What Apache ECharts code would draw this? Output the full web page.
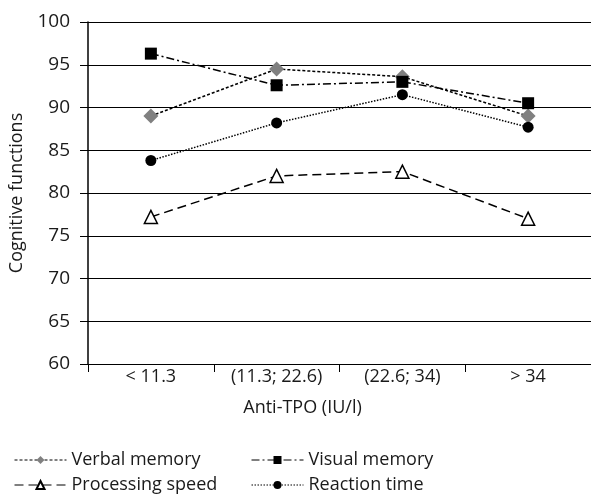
<!DOCTYPE html>
<html><head><meta charset="utf-8">
<script src="https://cdn.jsdelivr.net/npm/echarts@6/dist/echarts.min.js"></script>
<style>html,body{margin:0;padding:0;background:#fff}#c{width:591px;height:497px}</style>
</head><body><div id="c"></div>
<script>
const categories = ['< 11.3', '(11.3; 22.6)', '(22.6; 34)', '> 34'];
const verbalMemory = [89.0, 94.5, 93.6, 89.0];
const visualMemory = [96.3, 92.6, 93.0, 90.5];
const processingSpeed = [77.2, 82.0, 82.5, 77.0];
const reactionTime = [83.8, 88.2, 91.5, 87.7];
const yTicks = {min: 60, max: 100, interval: 5};

const font = 'Open Sans';
const txt = '#1a1a1a';
const chart = echarts.init(document.getElementById('c'));
function legendAt(name, left, top) {
  return {data: [name], left: left, top: top, itemWidth: 52, itemHeight: 10,
    lineStyle: {width: 1},
    textStyle: {fontFamily: font, fontSize: 18, color: txt}, selectedMode: false};
}
chart.setOption({
  animation: false,
  textStyle: {fontFamily: font},
  grid: {left: 87, right: 0, top: 22, bottom: 133},
  legend: [
    legendAt('Verbal memory', 9, 446),
    legendAt('Visual memory', 246, 446),
    legendAt('Processing speed', 9, 471),
    legendAt('Reaction time', 246, 471)
  ],
  xAxis: {
    type: 'category', data: categories, boundaryGap: true,
    name: 'Anti-TPO (IU/l)', nameLocation: 'middle', nameGap: 35,
    nameTextStyle: {fontFamily: font, fontSize: 18, color: txt, padding: [0, 74, 0, 0]},
    axisLine: {lineStyle: {color: '#000', width: 1}},
    axisTick: {show: true, length: 8, lineStyle: {color: '#000'}},
    axisLabel: {fontFamily: font, fontSize: 18, color: txt, margin: 4}
  },
  yAxis: {
    type: 'value', min: yTicks.min, max: yTicks.max, interval: yTicks.interval,
    name: 'Cognitive functions', nameLocation: 'middle', nameGap: 62, nameRotate: 90,
    nameTextStyle: {fontFamily: font, fontSize: 18, color: txt},
    axisLine: {show: true, lineStyle: {color: '#000', width: 1.5}},
    axisTick: {show: true, length: 8, lineStyle: {color: '#000'}},
    axisLabel: {fontFamily: font, fontSize: 19, color: txt, margin: 18},
    splitLine: {lineStyle: {color: '#000', width: 1}}
  },
  series: [
    {name: 'Verbal memory', type: 'line', data: verbalMemory, symbol: 'diamond', symbolSize: 15,
      itemStyle: {color: '#808080'}, lineStyle: {color: '#000', width: 1.5, type: [3, 2]}},
    {name: 'Visual memory', type: 'line', data: visualMemory, symbol: 'rect', symbolSize: 12,
      itemStyle: {color: '#000'}, lineStyle: {color: '#000', width: 1.5, type: [8, 3, 2, 3]}},
    {name: 'Processing speed', type: 'line', data: processingSpeed, symbol: 'triangle', symbolSize: 13,
      itemStyle: {color: '#fff', borderColor: '#000', borderWidth: 1.5},
      lineStyle: {color: '#000', width: 1.5, type: [9, 5]}},
    {name: 'Reaction time', type: 'line', data: reactionTime, symbol: 'circle', symbolSize: 11,
      itemStyle: {color: '#000'}, lineStyle: {color: '#000', width: 1.5, type: [1.5, 1.5]}}
  ]
});
</script></body></html>
